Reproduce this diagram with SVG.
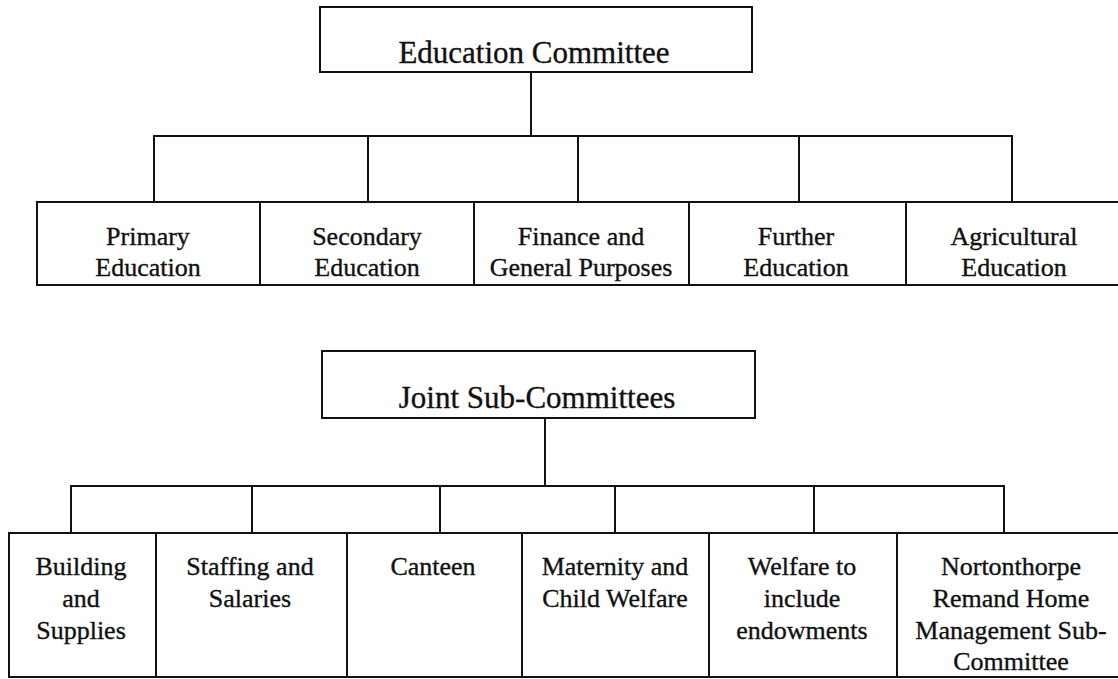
<svg xmlns="http://www.w3.org/2000/svg" width="1118" height="679" viewBox="0 0 1118 679">
  <style>
    .box { fill: #ffffff; stroke: #111111; stroke-width: 2; }
    .link { fill: none; stroke: #111111; stroke-width: 2; }
    text { fill: #111111; stroke: #111111; stroke-width: 0.35; text-anchor: middle; }
    .title { font-size: 31px; }
    .item { font-size: 26px; }
  </style>
  <rect width="1118" height="679" fill="#ffffff"/>

  <!-- connectors -->
  <g id="connectors">
    <!-- Education Committee tree -->
    <path class="link" d="M531,72 V136"/>
    <path class="link" d="M154,202 V136 H1012 V202"/>
    <path class="link" d="M368,136 V202 M578,136 V202 M799,136 V202"/>
    <!-- Joint Sub-Committees tree -->
    <path class="link" d="M545,418 V486"/>
    <path class="link" d="M71,533 V486 H1004 V533"/>
    <path class="link" d="M252,486 V533 M440,486 V533 M615,486 V533 M814,486 V533"/>
  </g>

  <g font-family="Liberation Serif, Times New Roman, serif">
  <!-- upper tree -->
  <g id="education-committee">
    <rect class="box" x="320" y="7" width="432" height="65"/>
    <text class="title" x="534" y="63">Education Committee</text>
  </g>
  <g id="primary-education">
    <rect class="box" x="37" y="202" width="223" height="83"/>
    <text class="item" x="148" y="245">Primary</text>
    <text class="item" x="148" y="276">Education</text>
  </g>
  <g id="secondary-education">
    <rect class="box" x="260" y="202" width="214" height="83"/>
    <text class="item" x="367" y="245">Secondary</text>
    <text class="item" x="367" y="276">Education</text>
  </g>
  <g id="finance-general-purposes">
    <rect class="box" x="474" y="202" width="215" height="83"/>
    <text class="item" x="581" y="245">Finance and</text>
    <text class="item" x="581" y="276">General Purposes</text>
  </g>
  <g id="further-education">
    <rect class="box" x="689" y="202" width="217" height="83"/>
    <text class="item" x="796" y="245">Further</text>
    <text class="item" x="796" y="276">Education</text>
  </g>
  <g id="agricultural-education">
    <rect class="box" x="906" y="202" width="216" height="83"/>
    <text class="item" x="1014" y="245">Agricultural</text>
    <text class="item" x="1014" y="276">Education</text>
  </g>

  <!-- lower tree -->
  <g id="joint-sub-committees">
    <rect class="box" x="322" y="351" width="433" height="67"/>
    <text class="title" x="537" y="408">Joint Sub-Committees</text>
  </g>
  <g id="building-supplies">
    <rect class="box" x="9" y="533" width="147" height="144"/>
    <text class="item" x="81" y="575">Building</text>
    <text class="item" x="81" y="607">and</text>
    <text class="item" x="81" y="639">Supplies</text>
  </g>
  <g id="staffing-salaries">
    <rect class="box" x="156" y="533" width="191" height="144"/>
    <text class="item" x="250" y="575">Staffing and</text>
    <text class="item" x="250" y="607">Salaries</text>
  </g>
  <g id="canteen">
    <rect class="box" x="347" y="533" width="175" height="144"/>
    <text class="item" x="433" y="575">Canteen</text>
  </g>
  <g id="maternity-child-welfare">
    <rect class="box" x="522" y="533" width="187" height="144"/>
    <text class="item" x="615" y="575">Maternity and</text>
    <text class="item" x="615" y="607">Child Welfare</text>
  </g>
  <g id="welfare-endowments">
    <rect class="box" x="709" y="533" width="188" height="144"/>
    <text class="item" x="802" y="575">Welfare to</text>
    <text class="item" x="802" y="607">include</text>
    <text class="item" x="802" y="639">endowments</text>
  </g>
  <g id="nortonthorpe-remand-home">
    <rect class="box" x="897" y="533" width="228" height="144"/>
    <text class="item" x="1011" y="575">Nortonthorpe</text>
    <text class="item" x="1011" y="607">Remand Home</text>
    <text class="item" x="1011" y="639">Management Sub-</text>
    <text class="item" x="1011" y="670">Committee</text>
  </g>
  </g>
</svg>
